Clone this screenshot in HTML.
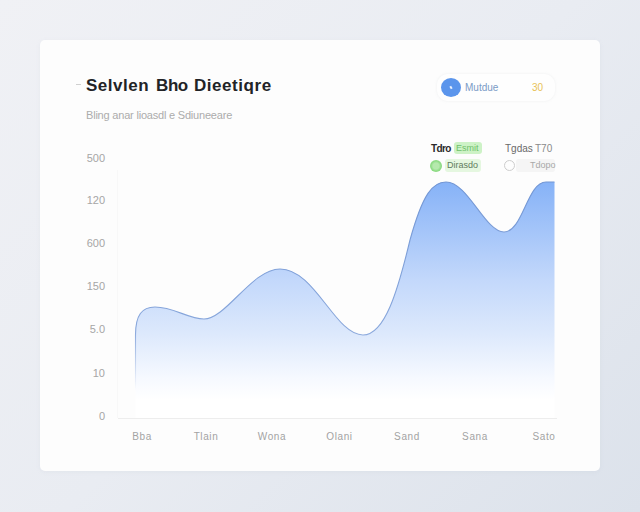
<!DOCTYPE html>
<html><head><meta charset="utf-8">
<style>
*{margin:0;padding:0;box-sizing:border-box}
html,body{width:640px;height:512px;overflow:hidden}
body{font-family:"Liberation Sans",sans-serif;background:linear-gradient(135deg,#f0f1f5 0%,#e9ecf2 50%,#dce2eb 100%);position:relative}
.card{position:absolute;left:40px;top:40px;width:560px;height:431px;background:#fdfdfd;border-radius:5px;box-shadow:0 1px 4px rgba(160,170,190,0.10)}
.abs{position:absolute;white-space:nowrap}
.title{top:75.5px;font-size:17px;font-weight:bold;color:#222326}
.dash{left:76px;top:84px;width:5px;height:1px;background:#d0d0d0}
.sub{left:86px;top:109px;font-size:11px;color:#acacac;letter-spacing:-0.2px}
.pill{left:437px;top:74px;width:118px;height:27px;border-radius:11px;background:#fefefe;box-shadow:0 0 3px rgba(170,175,185,0.18)}
.bdot{left:441px;top:78px;width:20px;height:19px;border-radius:50%;background:#5b95ec}
.bdot:after{content:"";position:absolute;left:9px;top:8px;width:2px;height:3px;background:#e9f0fd;transform:rotate(-30deg)}
.ptext{left:465px;top:82px;font-size:10px;color:#7b9bc6}
.y30{left:532px;top:82px;font-size:10px;color:#e8c257}
.ylab{font-size:11px;color:#a6a6a6;text-align:right;width:30px;left:75px}
.xlab{font-size:10px;color:#a3a3a3;text-align:center;width:50px;letter-spacing:0.6px}
.leg{font-size:10px}
</style></head>
<body>
<div class="card"></div>
<div class="abs dash"></div>
<div class="abs title" style="left:86px;letter-spacing:0.5px">Selvlen</div>
<div class="abs title" style="left:156px;letter-spacing:-0.4px">Bho</div>
<div class="abs title" style="left:194px;letter-spacing:0.55px">Dieetiqre</div>
<div class="abs sub">Bling anar lioasdl e Sdiuneeare</div>

<div class="abs pill"></div>
<div class="abs bdot"></div>
<div class="abs ptext">Mutdue</div>
<div class="abs y30">30</div>

<!-- legend -->
<div class="abs leg" style="left:431px;top:143px;color:#2a2a2a;font-weight:bold;letter-spacing:-0.6px">Tdro</div>
<div class="abs" style="left:454px;top:142px;width:28px;height:12px;border-radius:3px;background:#cdf2c6"></div>
<div class="abs leg" style="left:456px;top:143px;font-size:9px;color:#6fc06a">Esmit</div>
<div class="abs" style="left:430px;top:160px;width:12px;height:12px;border-radius:50%;background:radial-gradient(circle,#b5e9ad 0,#b5e9ad 35%,#8ddb84 60%)"></div>
<div class="abs" style="left:445px;top:159px;width:36px;height:13px;border-radius:3px;background:#e5f7e0"></div>
<div class="abs leg" style="left:447px;top:160px;font-size:9px;color:#5f7b5c">Dirasdo</div>

<div class="abs leg" style="left:505px;top:143px;color:#6a6a6a">Tgdas</div>
<div class="abs leg" style="left:535px;top:143px;color:#8a8a8a">T70</div>
<div class="abs" style="left:504px;top:160px;width:11px;height:11px;border-radius:50%;border:1px solid #cdcdcd"></div>
<div class="abs" style="left:516px;top:159px;width:39px;height:13px;border-radius:3px;background:#f5f5f5"></div>
<div class="abs leg" style="left:530px;top:160px;font-size:9px;color:#a8a8a8">Tdopo</div>

<!-- y labels -->
<div class="abs ylab" style="top:151.5px">500</div>
<div class="abs ylab" style="top:194px">120</div>
<div class="abs ylab" style="top:237px">600</div>
<div class="abs ylab" style="top:280px">150</div>
<div class="abs ylab" style="top:323px">5.0</div>
<div class="abs ylab" style="top:366.5px">10</div>
<div class="abs ylab" style="top:409.5px">0</div>

<!-- x labels -->
<div class="abs xlab" style="left:117px;top:431px">Bba</div>
<div class="abs xlab" style="left:181px;top:431px">Tlain</div>
<div class="abs xlab" style="left:247px;top:431px">Wona</div>
<div class="abs xlab" style="left:314.5px;top:431px">Olani</div>
<div class="abs xlab" style="left:382px;top:431px">Sand</div>
<div class="abs xlab" style="left:450px;top:431px">Sana</div>
<div class="abs xlab" style="left:519px;top:431px">Sato</div>

<svg class="abs" style="left:0;top:0" width="640" height="512" viewBox="0 0 640 512">
<defs>
<linearGradient id="g" gradientUnits="userSpaceOnUse" x1="0" y1="182" x2="0" y2="400">
<stop offset="0" stop-color="#86b2f7"/>
<stop offset="0.45" stop-color="#c3d8fb"/>
<stop offset="0.7" stop-color="#dde9fc"/>
<stop offset="0.9" stop-color="#f6f9ff"/>
<stop offset="1" stop-color="#ffffff"/>
</linearGradient>
<linearGradient id="sg" gradientUnits="userSpaceOnUse" x1="0" y1="182" x2="0" y2="390">
<stop offset="0" stop-color="#7296d4"/>
<stop offset="0.72" stop-color="#8aa8dc"/>
<stop offset="1" stop-color="#92aedf" stop-opacity="0"/>
</linearGradient>
</defs>
<line x1="118" y1="418.5" x2="557" y2="418.5" stroke="#ededed" stroke-width="1"/>
<line x1="117.5" y1="170" x2="117.5" y2="418" stroke="#f8f8f8" stroke-width="1"/>
<path d="M135.5,418 L135.5,335 C135.5,315 142,307 155,307 C174,307 188,319 204,319 C226,319 252,269 280,269 C315,269 335,335 363,335 C385,335 398,290 410,240 C423,193 433,182 446,182 C468,182 485,232 504,232 C523,232 527,182 546,182 L554.5,182 L554.5,418 Z" fill="url(#g)"/>
<path d="M135.5,390 L135.5,335 C135.5,315 142,307 155,307 C174,307 188,319 204,319 C226,319 252,269 280,269 C315,269 335,335 363,335 C385,335 398,290 410,240 C423,193 433,182 446,182 C468,182 485,232 504,232 C523,232 527,182 546,182 L554.5,182" fill="none" stroke="url(#sg)" stroke-width="1.1"/>
</svg>
</body></html>
